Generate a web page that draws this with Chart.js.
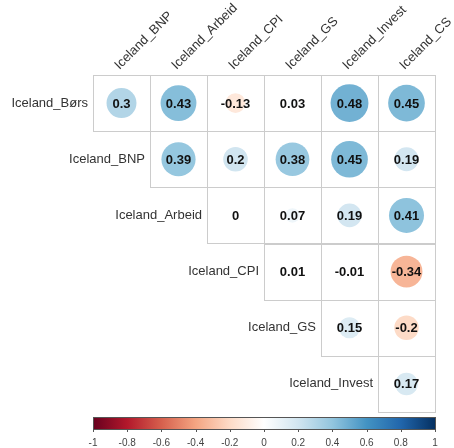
<!DOCTYPE html>
<html>
<head>
<meta charset="utf-8">
<script src="https://cdn.jsdelivr.net/npm/chart.js@4"></script>
<style>
  html, body { margin: 0; padding: 0; background: #fff; }
  #wrap { width: 454px; height: 448px; }
</style>
</head>
<body>
<div id="wrap"><canvas id="corrChart" width="454" height="448"></canvas></div>
<script>
// --- data ---
const colLabels = ['Iceland_BNP', 'Iceland_Arbeid', 'Iceland_CPI', 'Iceland_GS', 'Iceland_Invest', 'Iceland_CS'];
const rowLabels = ['Iceland_Børs', 'Iceland_BNP', 'Iceland_Arbeid', 'Iceland_CPI', 'Iceland_GS', 'Iceland_Invest'];
// upper triangle, null = empty
const rowBors   = [0.3, 0.43, -0.13, 0.03, 0.48, 0.45];
const rowBNP    = [null, 0.39, 0.2, 0.38, 0.45, 0.19];
const rowArbeid = [null, null, 0, 0.07, 0.19, 0.41];
const rowCPI    = [null, null, null, 0.01, -0.01, -0.34];
const rowGS     = [null, null, null, null, 0.15, -0.2];
const rowInvest = [null, null, null, null, null, 0.17];
const matrix = [rowBors, rowBNP, rowArbeid, rowCPI, rowGS, rowInvest];
const colorbarTicks = [-1, -0.8, -0.6, -0.4, -0.2, 0, 0.2, 0.4, 0.6, 0.8, 1];

// RdBu palette (corrplot style)
const rdbu = ['#67001F', '#B2182B', '#D6604D', '#F4A582', '#FDDBC7', '#FFFFFF',
              '#D1E5F0', '#92C5DE', '#4393C3', '#2166AC', '#053061'];

function hexToRgb(h) {
    return [parseInt(h.slice(1, 3), 16), parseInt(h.slice(3, 5), 16), parseInt(h.slice(5, 7), 16)];
}
function corrColor(v) {
    const t = (v + 1) / 2 * (rdbu.length - 1);
    const i = Math.min(Math.floor(t), rdbu.length - 2);
    const f = t - i;
    const a = hexToRgb(rdbu[i]), b = hexToRgb(rdbu[i + 1]);
    const c = a.map((x, k) => Math.round(x + (b[k] - x) * f));
    return `rgb(${c[0]}, ${c[1]}, ${c[2]})`;
}

const points = [];
matrix.forEach((row, r) => {
    row.forEach((v, c) => {
        if (v !== null) points.push({ x: c, y: r, v: v });
    });
});

const LABEL_FONT = '13px "Liberation Sans", Arial, sans-serif';

function halfCell(chart) {
    const xs = chart.scales.x;
    return Math.abs(xs.getPixelForValue(1) - xs.getPixelForValue(0)) / 2;
}
const circleRadius = c => halfCell(c.chart) * 0.96 * Math.sqrt(Math.abs(c.raw.v));

// --- cell grid, row/col labels and colorbar ---
const corrDecor = {
    id: 'corrDecor',
    beforeDatasetsDraw(chart) {
        const { ctx, scales: { x, y } } = chart;
        const hw = halfCell(chart);
        const hh = Math.abs(y.getPixelForValue(1) - y.getPixelForValue(0)) / 2;
        ctx.save();
        ctx.strokeStyle = '#cccccc';
        ctx.lineWidth = 1;
        matrix.forEach((row, r) => {
            row.forEach((v, c) => {
                if (c < r) return;
                const cx = x.getPixelForValue(c), cy = y.getPixelForValue(r);
                ctx.strokeRect(Math.round(cx - hw) + 0.5, Math.round(cy - hh) + 0.5,
                               Math.round(hw * 2), Math.round(hh * 2));
            });
        });
        ctx.restore();
    },
    afterDatasetsDraw(chart) {
        const { ctx, scales: { x, y, cbar } } = chart;
        const hw = halfCell(chart);
        ctx.save();
        // values
        ctx.fillStyle = '#111';
        ctx.font = 'bold 13px "Liberation Sans", Arial, sans-serif';
        ctx.textAlign = 'center';
        ctx.textBaseline = 'middle';
        points.forEach(p => {
            ctx.fillText(String(p.v), x.getPixelForValue(p.x), y.getPixelForValue(p.y) + 1);
        });
        // row labels
        ctx.fillStyle = '#333';
        ctx.font = LABEL_FONT;
        ctx.textAlign = 'right';
        rowLabels.forEach((lab, r) => {
            ctx.fillText(lab, x.getPixelForValue(r) - hw - 5, y.getPixelForValue(r));
        });
        // column labels, rotated
        ctx.textAlign = 'left';
        ctx.textBaseline = 'alphabetic';
        colLabels.forEach((lab, c) => {
            ctx.save();
            ctx.translate(x.getPixelForValue(c) - 2, chart.chartArea.top - 5);
            ctx.rotate(-Math.PI / 4);
            ctx.fillText(lab, 0, 0);
            ctx.restore();
        });
        // colorbar
        const x0 = cbar.getPixelForValue(-1), x1 = cbar.getPixelForValue(1);
        const top = chart.chartArea.bottom + 5, h = 12;
        const grad = ctx.createLinearGradient(x0, 0, x1, 0);
        rdbu.forEach((col, i) => grad.addColorStop(i / (rdbu.length - 1), col));
        ctx.fillStyle = grad;
        ctx.fillRect(x0, top, x1 - x0, h);
        ctx.strokeStyle = '#555';
        ctx.lineWidth = 1;
        ctx.strokeRect(Math.round(x0) + 0.5, top + 0.5, Math.round(x1 - x0), h);
        ctx.beginPath();
        colorbarTicks.forEach(t => {
            const px = Math.round(cbar.getPixelForValue(t)) + 0.5;
            ctx.moveTo(px, top + h);
            ctx.lineTo(px, top + h + 3);
        });
        ctx.stroke();
        ctx.restore();
    }
};

const chart = new Chart(document.getElementById('corrChart'), {
    type: 'scatter',
    data: {
        datasets: [{
            data: points,
            pointBackgroundColor: c => corrColor(c.raw.v),
            pointBorderWidth: 0,
            pointRadius: circleRadius,
            pointHoverRadius: circleRadius
        }]
    },
    options: {
        responsive: false,
        animation: false,
        events: [],
        layout: { padding: { left: 93, right: 19, top: 75, bottom: 0 } },
        plugins: { legend: { display: false }, tooltip: { enabled: false } },
        scales: {
            x: { type: 'linear', min: -0.5, max: 5.5, display: false },
            y: { type: 'linear', min: -0.5, max: 5.5, reverse: true, display: false },
            cbar: {
                type: 'linear', axis: 'x', position: 'bottom',
                min: -1, max: 1,
                afterBuildTicks: s => { s.ticks = colorbarTicks.map(v => ({ value: v })); },
                afterFit: s => { s.height = 36; s.paddingLeft = 0; s.paddingRight = 0; },
                grid: { display: false, drawTicks: false },
                border: { display: false },
                ticks: {
                    padding: 25,
                    maxRotation: 0,
                    autoSkip: false,
                    color: '#444',
                    font: { family: '"Liberation Sans", Arial, sans-serif', size: 10 },
                    callback: v => String(Math.round(v * 10) / 10)
                }
            }
        }
    },
    plugins: [corrDecor]
});
</script>
</body>
</html>
